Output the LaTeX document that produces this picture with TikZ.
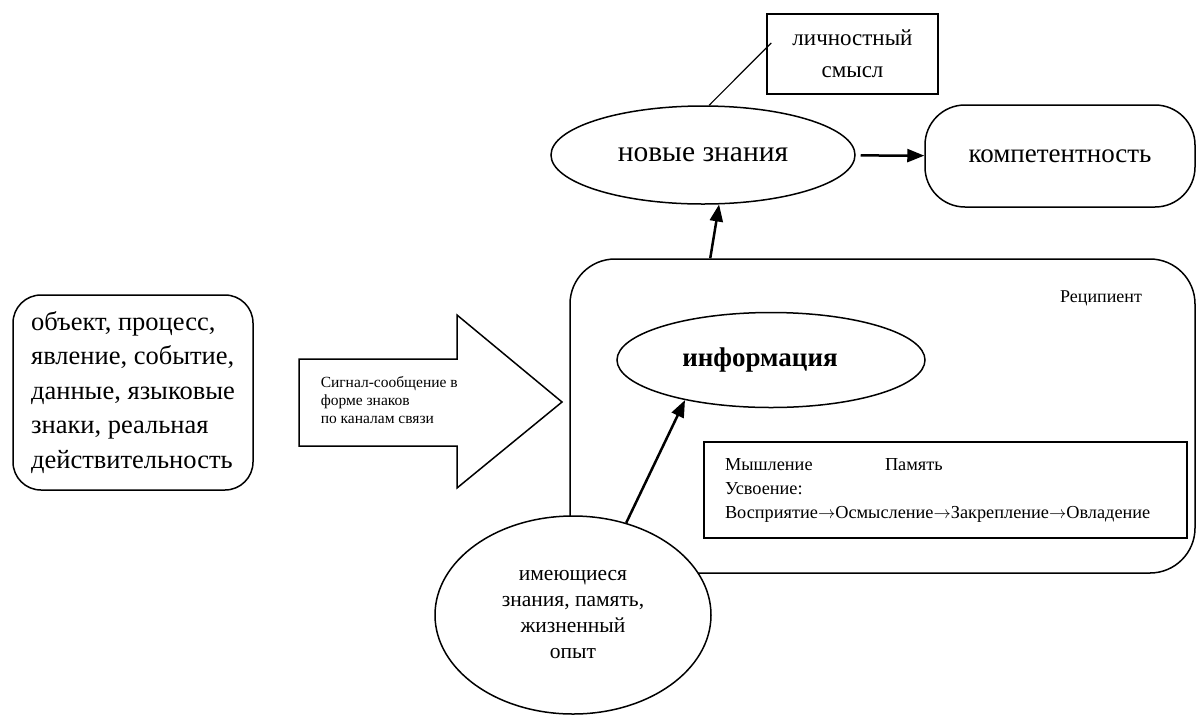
\documentclass[tikz,border=0pt]{standalone}
\usepackage{fontspec}
\setmainfont{Liberation Serif}
\usetikzlibrary{shapes.geometric,arrows.meta}
\newcommand{\fsz}[2]{\fontsize{#1}{#2}\selectfont}
\begin{document}
\begin{tikzpicture}[x=1pt,y=-1pt,line width=1.5pt,
  oval/.style={ellipse, draw, inner sep=0pt},
  box/.style={rectangle, draw, inner sep=0pt},
  arr/.style={line width=2.5pt, -{Triangle[length=17pt,width=13pt]}}]
\useasboundingbox (0,0) rectangle (1197,716);
% recipient
\node[box, rounded corners=45pt, minimum width=625pt, minimum height=314pt] (recip) at (882.5,416){};
\node[font=\fsz{18}{22}] (reclab) at (1101,298){Реципиент};
\node[oval, minimum width=308pt, minimum height=95pt, font=\bfseries\fsz{27}{32}] (info) at (771,360){информация\rule{22pt}{0pt}};
\node[box, minimum width=483pt, minimum height=96pt, text width=441pt, align=left, font=\fsz{18.3}{24}] (mind) at (945.5,490){\makebox[160pt][l]{Мышление}Память\\Усвоение:\\Восприятие$\rightarrow$Осмысление$\rightarrow$Закрепление$\rightarrow$Овладение};
\node[oval, fill=white, minimum width=276pt, minimum height=198pt, align=center, font=\fsz{21.5}{26}] (opyt) at (573,615){имеющиеся\\знания, память,\\жизненный\\опыт};
% source and signal
\node[box, rounded corners=28pt, minimum width=240pt, minimum height=195pt, align=left, font=\fsz{26.5}{34.5}] (src) at (133,392.5){объект, процесс,\\явление, событие,\\данные, языковые\\знаки, реальная\\действительность};
\draw (299,359) -- (457,359) -- (457,315) -- (562,402) -- (457,488) -- (457,446) -- (299,446) -- cycle;
\node[anchor=west, align=left, inner sep=0pt, font=\fsz{15.5}{18}] (sig) at (320,400){Сигнал-сообщение в\\форме знаков\\по каналам связи};
% top
\node[oval, minimum width=304pt, minimum height=98pt, font=\fsz{29.5}{32}] (newk) at (703,155){новые знания};
\node[box, minimum width=171pt, minimum height=80pt, align=center, font=\fsz{23}{32}] (lich) at (852.5,54){\raisebox{-5pt}{личностный}\\\raisebox{-5pt}{смысл}};
\node[box, rounded corners=40pt, minimum width=270pt, minimum height=102pt, font=\fsz{27}{32}] (komp) at (1060,156){компетентность};
\draw[arr] (opyt.60) -- (info.205);
\draw[arr] ([xshift=141pt]recip.north west) -- (newk.-72);
\draw[arr, shorten <=5pt] (newk) -- (komp);
\draw[line width=1.2pt] (newk.83) -- ([shift={(5pt,11pt)}]lich.west);
\end{tikzpicture}
\end{document}
